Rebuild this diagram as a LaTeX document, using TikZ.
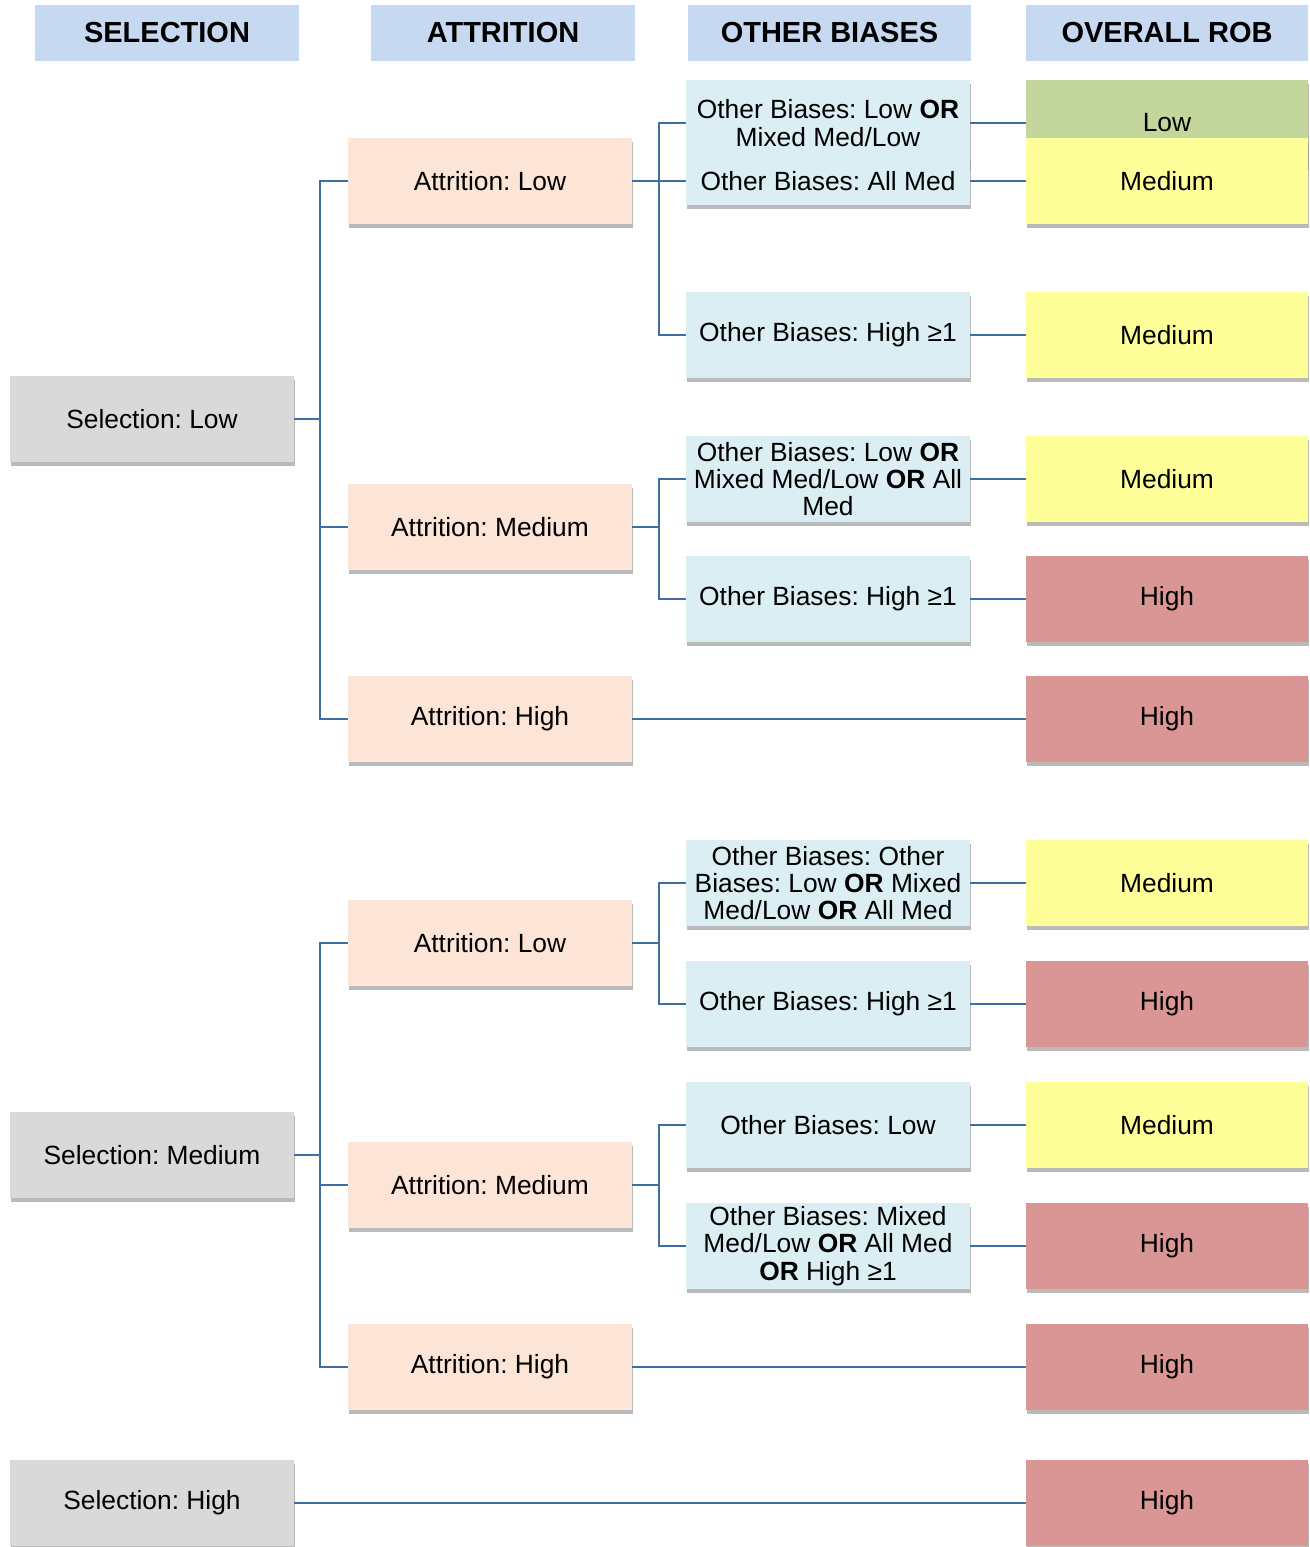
\documentclass[tikz,border=0pt]{standalone}
\usepackage{fontspec}
\setmainfont{Liberation Sans}
\usepackage{xcolor}
\usetikzlibrary{shadows}
\frenchspacing

\definecolor{headblue}{HTML}{C6D9F1}
\definecolor{selgray}{HTML}{D9D9D9}
\definecolor{attpeach}{HTML}{FCE4D6}
\definecolor{othblue}{HTML}{DAEEF3}
\definecolor{robgreen}{HTML}{C3D69B}
\definecolor{robyellow}{HTML}{FFFF99}
\definecolor{robred}{HTML}{D99694}
\definecolor{linkblue}{HTML}{3F6DA6}

\begin{document}
\begin{tikzpicture}[x=0.02cm,y=-0.02cm]

%\draw[help lines] (0,0) grid[step=100] (1310,1547);
\useasboundingbox (0,0) rectangle (1310,1547);

% Define block styles
\tikzstyle{header}=[fill=headblue, minimum width=5.28cm, minimum height=1.14cm,
  inner sep=0pt, font=\fontsize{16.5}{18}\selectfont\bfseries]
\tikzstyle{block}=[minimum width=5.68cm, minimum height=1.73cm, inner sep=1pt,
  align=center, font=\fontsize{15}{15.6}\selectfont,
  drop shadow={shadow xshift=0.6pt, shadow yshift=-2.2pt, fill=black!45, opacity=0.6}]
\tikzstyle{selection}=[block, fill=selgray]
\tikzstyle{attrition}=[block, fill=attpeach]
\tikzstyle{other}=[block, fill=othblue]
\tikzstyle{rob}=[block, minimum width=5.64cm]
\tikzstyle{lowrob}=[rob, fill=robgreen]
\tikzstyle{medrob}=[rob, fill=robyellow]
\tikzstyle{highrob}=[rob, fill=robred]
\tikzstyle{line}=[draw, color=linkblue, line width=1.5pt]

% Branch from a node over a vertical bus to a child node
\newcommand{\branch}[3]{%
  \path[line] (#1.east) -- (#1.east -| #2) |- (#3.west);}
\newcommand{\link}[2]{%
  \path[line] (#1.east) -- (#2.west);}

% Vertical buses
\coordinate (bus1) at (320,0);
\coordinate (bus2) at (659,0);

% Column headers
\node[header] (hsel) at (167,33) {SELECTION};
\node[header] (hatt) at (503,33) {ATTRITION};
\node[header, minimum width=5.66cm] (hoth) at (829.5,33) {OTHER BIASES};
\node[header, minimum width=5.64cm] (hrob) at (1167,33) {OVERALL ROB};

% Selection
\node[selection] (s1) at (152,419) {Selection: Low};
\node[selection] (s2) at (152,1155) {Selection: Medium};
\node[selection] (s3) at (152,1503) {Selection: High};

% Attrition
\node[attrition] (a1) at (490,181) {Attrition: Low};
\node[attrition] (a2) at (490,527) {Attrition: Medium};
\node[attrition] (a3) at (490,719) {Attrition: High};
\node[attrition] (a4) at (490,943) {Attrition: Low};
\node[attrition] (a5) at (490,1185) {Attrition: Medium};
\node[attrition] (a6) at (490,1367) {Attrition: High};

% Other biases
\node[other] (o1) at (828,123) {Other Biases: Low \textbf{OR}\\Mixed Med/Low};
\node[other, minimum height=0.96cm] (o2) at (828,181) {Other Biases: All Med};
\node[other] (o3) at (828,335) {Other Biases: High ≥1};
\node[other] (o4) at (828,479)
  {Other Biases: Low \textbf{OR}\\Mixed Med/Low \textbf{OR} All\\Med};
\node[other] (o5) at (828,599) {Other Biases: High ≥1};
\node[other] (o6) at (828,883)
  {Other Biases: Other\\Biases: Low \textbf{OR} Mixed\\Med/Low \textbf{OR} All Med};
\node[other] (o7) at (828,1004) {Other Biases: High ≥1};
\node[other] (o8) at (828,1125) {Other Biases: Low};
\node[other] (o9) at (828,1246)
  {Other Biases: Mixed\\Med/Low \textbf{OR} All Med\\\textbf{OR} High ≥1};

% Overall risk of bias
\node[lowrob] (r1) at (1167,123) {Low};
\node[medrob] (r2) at (1167,181) {Medium};
\node[medrob] (r3) at (1167,335) {Medium};
\node[medrob] (r4) at (1167,479) {Medium};
\node[highrob] (r5) at (1167,599) {High};
\node[highrob] (r6) at (1167,719) {High};
\node[medrob] (r7) at (1167,883) {Medium};
\node[highrob] (r8) at (1167,1004) {High};
\node[medrob] (r9) at (1167,1125) {Medium};
\node[highrob] (r10) at (1167,1246) {High};
\node[highrob] (r11) at (1167,1367) {High};
\node[highrob] (r12) at (1167,1503) {High};

% Selection -> attrition
\branch{s1}{bus1}{a1}
\branch{s1}{bus1}{a2}
\branch{s1}{bus1}{a3}
\branch{s2}{bus1}{a4}
\branch{s2}{bus1}{a5}
\branch{s2}{bus1}{a6}

% Attrition -> other biases
\branch{a1}{bus2}{o1}
\branch{a1}{bus2}{o2}
\branch{a1}{bus2}{o3}
\branch{a2}{bus2}{o4}
\branch{a2}{bus2}{o5}
\branch{a4}{bus2}{o6}
\branch{a4}{bus2}{o7}
\branch{a5}{bus2}{o8}
\branch{a5}{bus2}{o9}

% Into overall rob
\link{o1}{r1}
\link{o2}{r2}
\link{o3}{r3}
\link{o4}{r4}
\link{o5}{r5}
\link{a3}{r6}
\link{o6}{r7}
\link{o7}{r8}
\link{o8}{r9}
\link{o9}{r10}
\link{a6}{r11}
\link{s3}{r12}

\end{tikzpicture}
\end{document}
